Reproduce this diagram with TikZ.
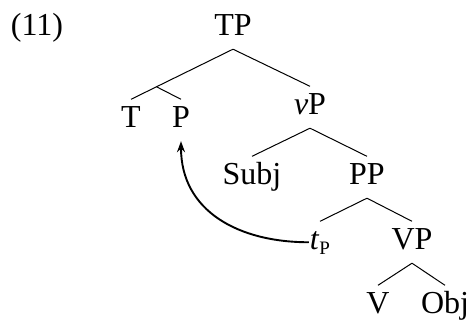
\documentclass[tikz,border=0pt]{standalone}
\usepackage{fontspec}
\setmainfont{Liberation Serif}
\usetikzlibrary{arrows.meta,calc}
\begin{document}
\begin{tikzpicture}[x=1pt,y=-1pt,
  lbl/.style={anchor=base, font=\fontsize{32}{34}\selectfont, inner xsep=1pt, inner ysep=0pt, text height=27.5pt, text depth=14pt},
  branch/.style={line width=1pt},
  move/.style={line width=1.9pt, -{Stealth[length=11pt,width=8pt]}}]
\useasboundingbox (0,0) rectangle (469,322);
\node[lbl] (ex) at (37,35) {(11)};
\node[lbl] (TP) at (233,35) {TP};
\node[lbl] (T) at (131,127) {T};
\node[lbl] (P) at (181,127) {P};
\node[lbl] (vP) at (310,114) {\textit{v}P};
\node[lbl] (Subj) at (252,184) {Subj};
\node[lbl] (PP) at (367,184) {PP};
\node[lbl] (tP) at (320,249) {\textit{t}\raisebox{-5pt}{\fontsize{19}{19}\selectfont P}};
\node[lbl] (VP) at (412,249) {VP};
\node[lbl] (V) at (378,313) {V};
\node[lbl] (Obj) at (445,313) {Obj};
\coordinate (Tbar) at ($(TP.south)!0.75!(T.north)$);
\draw[branch] (TP.south) -- (T.north);
\draw[branch] (Tbar) -- (P.north);
\draw[branch] (TP.south) -- (vP.north);
\draw[branch] (vP.south) -- (Subj.north);
\draw[branch] (vP.south) -- (PP.north);
\draw[branch] (PP.south) -- (tP.north);
\draw[branch] (PP.south) -- (VP.north);
\draw[branch] (VP.south) -- (V.north);
\draw[branch] (VP.south) -- (Obj.north);
\draw[move] (tP.west) to[out=180,in=-90,looseness=1.1] (P.south);
\end{tikzpicture}
\end{document}
